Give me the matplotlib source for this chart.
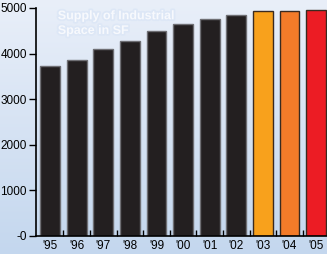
import numpy as np
import matplotlib
matplotlib.use('Agg')
import matplotlib.pyplot as plt
import matplotlib.patheffects as pe

years = ["'95", "'96", "'97", "'98", "'99", "'00", "'01", "'02", "'03", "'04", "'05"]
supply = [3730, 3870, 4100, 4280, 4505, 4655, 4755, 4850, 4925, 4945, 4960]
colors = ['#231f20'] * 8 + ['#f8a11c', '#f47b29', '#ec1c24']
edges = ['#6f6f74'] * 8 + ['#3a2a20', '#3a2a20', '#3a2a20']

plt.rcParams['font.family'] = ['Liberation Sans', 'DejaVu Sans']

fig = plt.figure(figsize=(3.27, 2.54), dpi=100)

# Background gradient over the whole figure
bg = fig.add_axes([0, 0, 1, 1], zorder=0)
grad = np.linspace(0, 1, 256).reshape(-1, 1)
cmap = matplotlib.colors.LinearSegmentedColormap.from_list('bg', ['#e9eff9', '#c4d7ee'])
bg.imshow(grad, aspect='auto', cmap=cmap, extent=[0, 1, 0, 1], origin='upper')
bg.axis('off')

ax = fig.add_axes([36 / 327, (254 - 236) / 254, 291 / 327, 228 / 254], zorder=1)
ax.patch.set_alpha(0)

x = np.arange(len(years))
ax.bar(x, supply, width=0.75, color=colors, edgecolor=edges, linewidth=1.0, zorder=2)

ax.set_xlim(-0.53, 10.41)
ax.set_ylim(0, 5000)

ax.set_yticks([0, 1000, 2000, 3000, 4000, 5000])
ax.set_yticklabels(['-0', '1000', '2000', '3000', '4000', '5000'])
ax.set_xticks(x)
ax.set_xticklabels(years)
ax.set_xticks(x[:-1] + 0.5, minor=True)

ax.tick_params(axis='y', direction='out', length=5, width=1, pad=1.5, labelsize=8.5)
ax.tick_params(axis='x', which='major', length=0, pad=3, labelsize=8.5)
ax.tick_params(axis='x', which='minor', direction='in', length=4, width=1)

for side in ['top', 'right']:
    ax.spines[side].set_visible(False)
ax.spines['left'].set_linewidth(1.2)
ax.spines['bottom'].set_linewidth(1.2)

# Faint title
ax.text(0.075, 0.99, 'Supply of Industrial\nSpace in SF', transform=ax.transAxes,
        ha='left', va='top', fontsize=9, fontweight='bold', color='#f7f9fd',
        linespacing=1.3, zorder=3,
        path_effects=[pe.withStroke(linewidth=2.5, foreground='#dde7f6')])

plt.savefig('out.png', dpi=100)
